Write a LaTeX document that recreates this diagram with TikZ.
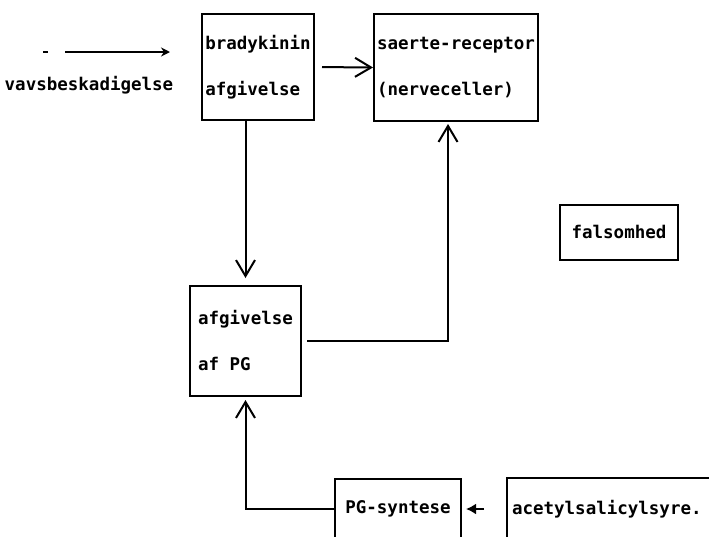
\documentclass[tikz,border=0pt]{standalone}
\usepackage{fontspec}
\usetikzlibrary{arrows.meta}
\newfontfamily\dotfont{DejaVu Sans Mono}

\begin{document}
\begin{tikzpicture}[
    x=1pt, y=-1pt,
    box/.style={draw, line width=2pt, align=left, inner sep=3pt},
    every node/.style={font=\dotfont\bfseries\fontsize{17.5pt}{46pt}\selectfont},
    barb/.style={-{Straight Barb[length=16pt, width=19pt, line width=2pt]}},
    thick, line width=2pt
  ]
  \clip (0,0) rectangle (709,536);

  \node[box, anchor=north west, minimum width=112, minimum height=106] (brady) at (201,13) {bradykinin\\afgivelse};
  \node[box, anchor=north west, minimum width=164, minimum height=107] (receptor) at (373,13) {saerte-receptor\\(nerveceller)};
  \node[box, anchor=north west, minimum width=111, minimum height=110] (pgafg) at (189,285) {afgivelse\\af PG};
  \node[box, anchor=north west, minimum width=126, minimum height=60] (pgsyn) at (334,478) {PG-syntese};
  \node[box, anchor=north west, text width=215, inner sep=5pt, minimum height=62] (asa) at (506,477) {acetylsalicylsyre.};
  \node[box, minimum width=118, minimum height=55] (sens) at (619,232) {falsomhed};
  \node (tissue) at (89,85) {vavsbeskadigelse};

  \coordinate (tstart) at (43,52);
  \coordinate (tend) at (170,52);

  % Tissue damage into bradykinin
  \draw[-{Stealth[length=9pt, width=9pt]}, dash pattern=on 5pt off 17pt on 140pt] (tstart) -- (tend);
  \draw[barb, shorten <=7pt] (brady.east) -- (receptor.west);
  \draw[barb, shorten >=7pt] (pgafg.north |- brady.south) -- (pgafg.north);
  % PG back up to the receptor
  \draw[barb, shorten <=5pt, shorten >=2pt] (pgafg.east) -| ([xshift=-8pt]receptor.south);
  \draw[barb, shorten >=3pt] (pgsyn.west) -| (pgafg.south);
  \draw[-{Latex[length=10pt, width=11pt]}, shorten <=22pt, shorten >=4pt] (asa.west) -- (pgsyn.east);
\end{tikzpicture}
\end{document}
